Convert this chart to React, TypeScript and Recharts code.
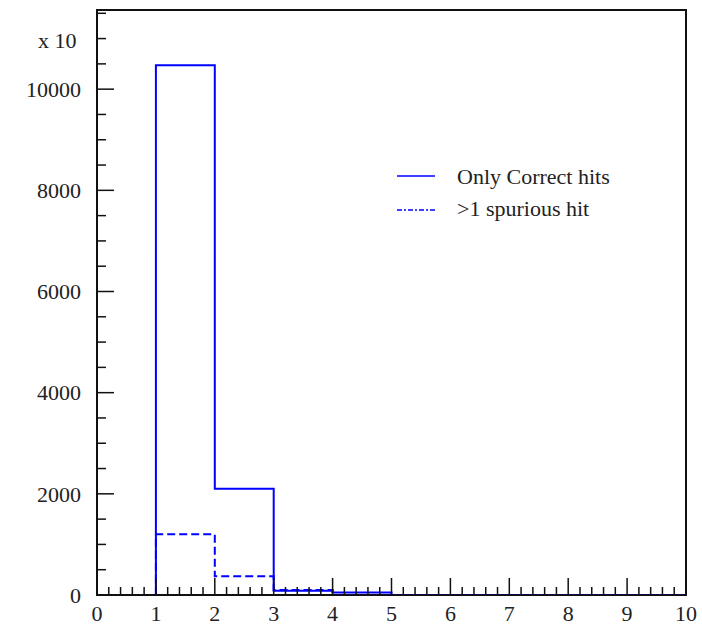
import React from 'react';
import { ComposedChart, Line, XAxis, YAxis, ReferenceArea } from 'recharts';

// bin edges of the histogram (lower edge of each bin, then the last upper edge)
const binEdges = [1, 2, 3, 4, 5, 6, 7, 8, 9, 10];
// contents per bin (units of the axis, which carries an "x 10" factor)
const correctHits = [10475, 2100, 85, 50, 0, 0, 0, 0, 0];
const spuriousHits = [1200, 370, 100, 0, 0, 0, 0, 0, 0];

const xMajorTicks = [0, 1, 2, 3, 4, 5, 6, 7, 8, 9, 10];
const yMajorTicks = [0, 2000, 4000, 6000, 8000, 10000];
const yMax = 11565;

// minor ticks: 5 divisions per x unit, 4 per y label
const xTicks: number[] = [];
xMajorTicks.forEach((v, i) => {
  if (i < xMajorTicks.length - 1) {
    for (let k = 0; k < 5; k++) xTicks.push(+(v + k * 0.2).toFixed(2));
  } else xTicks.push(v);
});
const yTicks: number[] = [];
for (let v = 0; v <= yMax; v += 500) yTicks.push(v);

// step data: start at the baseline so the first bin has its left edge
const data = [
  { x: binEdges[0], correct: 0, spurious: 0 },
  ...binEdges.slice(0, -1).map((x, i) => ({ x, correct: correctHits[i], spurious: spuriousHits[i] })),
  { x: binEdges[binEdges.length - 1], correct: 0, spurious: 0 },
];

const FONT = '"Liberation Serif", "DejaVu Serif", serif';
const BLUE = '#0000ff';
const AXIS = { stroke: '#111', strokeWidth: 1.5 };

const XTick = (props: any) => {
  const { x, y, payload } = props;
  const v = payload.value;
  const major = Math.abs(v - Math.round(v)) < 1e-6;
  return (
    <g>
      <line x1={x} x2={x} y1={y} y2={y - (major ? 17 : 8)} stroke="#111" strokeWidth={1.5} />
      {major && (
        <text x={x} y={y + 26} textAnchor="middle" fontFamily={FONT} fontSize={22} fill="#222">
          {Math.round(v)}
        </text>
      )}
    </g>
  );
};

const YTick = (props: any) => {
  const { x, y, payload } = props;
  const v = payload.value;
  const major = yMajorTicks.includes(v);
  return (
    <g>
      <line x1={x} x2={x + (major ? 17 : 9)} y1={y} y2={y} stroke="#111" strokeWidth={1.5} />
      {major && (
        <text x={x - 16} y={y} dy="0.35em" textAnchor="end" fontFamily={FONT} fontSize={22} fill="#222">
          {v}
        </text>
      )}
    </g>
  );
};

export default function App() {
  return (
    <div style={{ position: 'absolute', left: 0, top: 0, width: 702, height: 630, background: '#fff' }}>
      <ComposedChart width={702} height={630} data={data} margin={{ top: 10, right: 16, bottom: 0, left: 0 }}>
        <XAxis
          xAxisId="b"
          dataKey="x"
          type="number"
          domain={[0, 10]}
          ticks={xTicks}
          interval={0}
          height={35}
          tickSize={0}
          tickMargin={0}
          tick={<XTick />}
          axisLine={AXIS}
        />
        <YAxis
          yAxisId="l"
          type="number"
          domain={[0, yMax]}
          allowDataOverflow
          ticks={yTicks}
          interval={0}
          width={97}
          tickSize={0}
          tickMargin={0}
          tick={<YTick />}
          axisLine={AXIS}
        />
        {/* frame around the plot area */}
        <ReferenceArea xAxisId="b" yAxisId="l" x1={0} x2={10} y1={0} y2={yMax} ifOverflow="visible" fill="none" fillOpacity={0} stroke="#111" strokeWidth={2} />
        <Line xAxisId="b" yAxisId="l" type="stepAfter" dataKey="spurious" stroke={BLUE} strokeWidth={2} strokeDasharray="8 4" dot={false} isAnimationActive={false} />
        <Line xAxisId="b" yAxisId="l" type="stepAfter" dataKey="correct" stroke={BLUE} strokeWidth={2} dot={false} isAnimationActive={false} />
      </ComposedChart>
      <div style={{ position: 'absolute', left: 38, top: 28, fontFamily: FONT, fontSize: 22, color: '#222' }}>x 10</div>
      <svg style={{ position: 'absolute', left: 390, top: 162 }} width={260} height={64}>
        <line x1={7} x2={45} y1={14} y2={14} stroke={BLUE} strokeWidth={1.5} />
        <line x1={7} x2={45} y1={48} y2={48} stroke={BLUE} strokeWidth={1.5} strokeDasharray="5 2 2 2" />
        <text x={67} y={14} dy="0.35em" fontFamily={FONT} fontSize={22} fill="#222">Only Correct hits</text>
        <text x={67} y={46} dy="0.35em" fontFamily={FONT} fontSize={22} fill="#222">&gt;1 spurious hit</text>
      </svg>
    </div>
  );
}
